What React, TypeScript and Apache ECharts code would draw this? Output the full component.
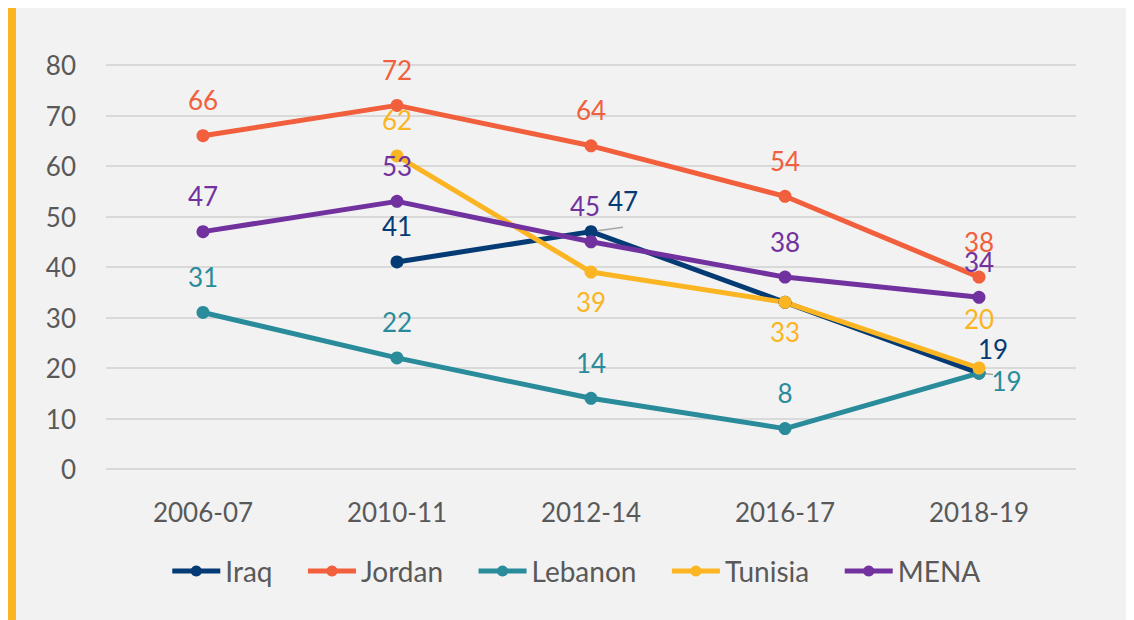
import React, { useEffect, useRef } from "react";
import * as echarts from "echarts";

const categories = ["2006-07", "2010-11", "2012-14", "2016-17", "2018-19"];
const yTicks = [0, 10, 20, 30, 40, 50, 60, 70, 80];
const seriesNames = ["Iraq", "Jordan", "Lebanon", "Tunisia", "MENA"];
const iraq = [null, 41, 47, 33, 19];
const jordan = [66, 72, 64, 54, 38];
const lebanon = [31, 22, 14, 8, 19];
const tunisia = [null, 62, 39, 33, 20];
const mena = [47, 53, 45, 38, 34];

const colors = ["#053b75", "#f15f3c", "#2a8c9b", "#fbb522", "#7132a0"];
const FONT = "Lato";

// label placement per series per point: [position, offsetX, offsetY, show, leaderLine]
type Place = [string, number, number, boolean, boolean];
const placements: Place[][] = [
  [["top", 0, 0, true, false], ["top", 0, -6, true, false], ["top", 32, -1, true, true], ["top", 0, 0, false, false], ["top", 14, 5, true, true]],
  [["top", 0, -6, true, false], ["top", 0, -6, true, false], ["top", 0, -6, true, false], ["top", 0, -6, true, false], ["top", 0, -6, true, false]],
  [["top", 0, -6, true, false], ["top", 0, -6, true, false], ["top", 0, -6, true, false], ["top", 0, -6, true, false], ["right", -4, 8, true, false]],
  [["top", 0, 0, true, false], ["top", 0, -6, true, false], ["bottom", 0, 0, true, false], ["bottom", 0, 0, true, false], ["top", 0, -20, true, false]],
  [["top", 0, -6, true, false], ["top", 0, -6, true, false], ["top", -6, -6, true, false], ["top", 0, -6, true, false], ["top", 0, -6, true, false]],
];

export default function App() {
  const ref = useRef<HTMLDivElement>(null);
  useEffect(() => {
    if (!ref.current) return;
    const chart = echarts.init(ref.current, null, { renderer: "svg" });
    const all = [iraq, jordan, lebanon, tunisia, mena];
    const series = all.map((vals, si) => ({
      name: seriesNames[si],
      type: "line",
      data: vals.map((v, i) => {
        const p = placements[si][i];
        return {
          value: v,
          label: {
            show: p[3],
            position: p[0],
            offset: [p[1], p[2]],
          },
          labelLine: {
            show: p[4],
            lineStyle: { color: "#a6a6a6", width: 1.5 },
          },
        };
      }),
      connectNulls: false,
      symbol: "circle",
      symbolSize: 13,
      lineStyle: { width: 5, color: colors[si] },
      itemStyle: { color: colors[si] },
      label: {
        show: true,
        color: colors[si],
        fontSize: 26,
        fontFamily: FONT,
        distance: 10,
      },
    }));
    chart.setOption({
      animation: false,
      backgroundColor: "#f2f2f2",
      color: colors,
      grid: { left: 90, right: 58, top: 57, bottom: 151 },
      legend: {
        bottom: 30,
        left: "center",
        itemWidth: 48,
        itemHeight: 14,
        itemGap: 33,
        lineStyle: { width: 5 },
        textStyle: { color: "#595959", fontSize: 28, fontFamily: FONT },
        data: seriesNames,
      },
      xAxis: {
        type: "category",
        data: categories,
        axisLine: { show: false },
        axisTick: { show: false },
        axisLabel: { color: "#595959", fontSize: 26, fontFamily: FONT, margin: 30 },
      },
      yAxis: {
        type: "value",
        min: yTicks[0],
        max: yTicks[yTicks.length - 1],
        interval: 10,
        axisLine: { show: false },
        axisTick: { show: false },
        splitLine: { lineStyle: { color: "#d9d9d9", width: 2 } },
        axisLabel: { color: "#595959", fontSize: 26, fontFamily: FONT, margin: 30 },
      },
      series,
    });
    return () => chart.dispose();
  }, []);
  return (
    <div style={{ display: "flex", width: 1126, height: 612 }}>
      <div style={{ width: 8, height: 612, background: "#fbb522" }} />
      <div ref={ref} style={{ width: 1118, height: 612 }} />
    </div>
  );
}
